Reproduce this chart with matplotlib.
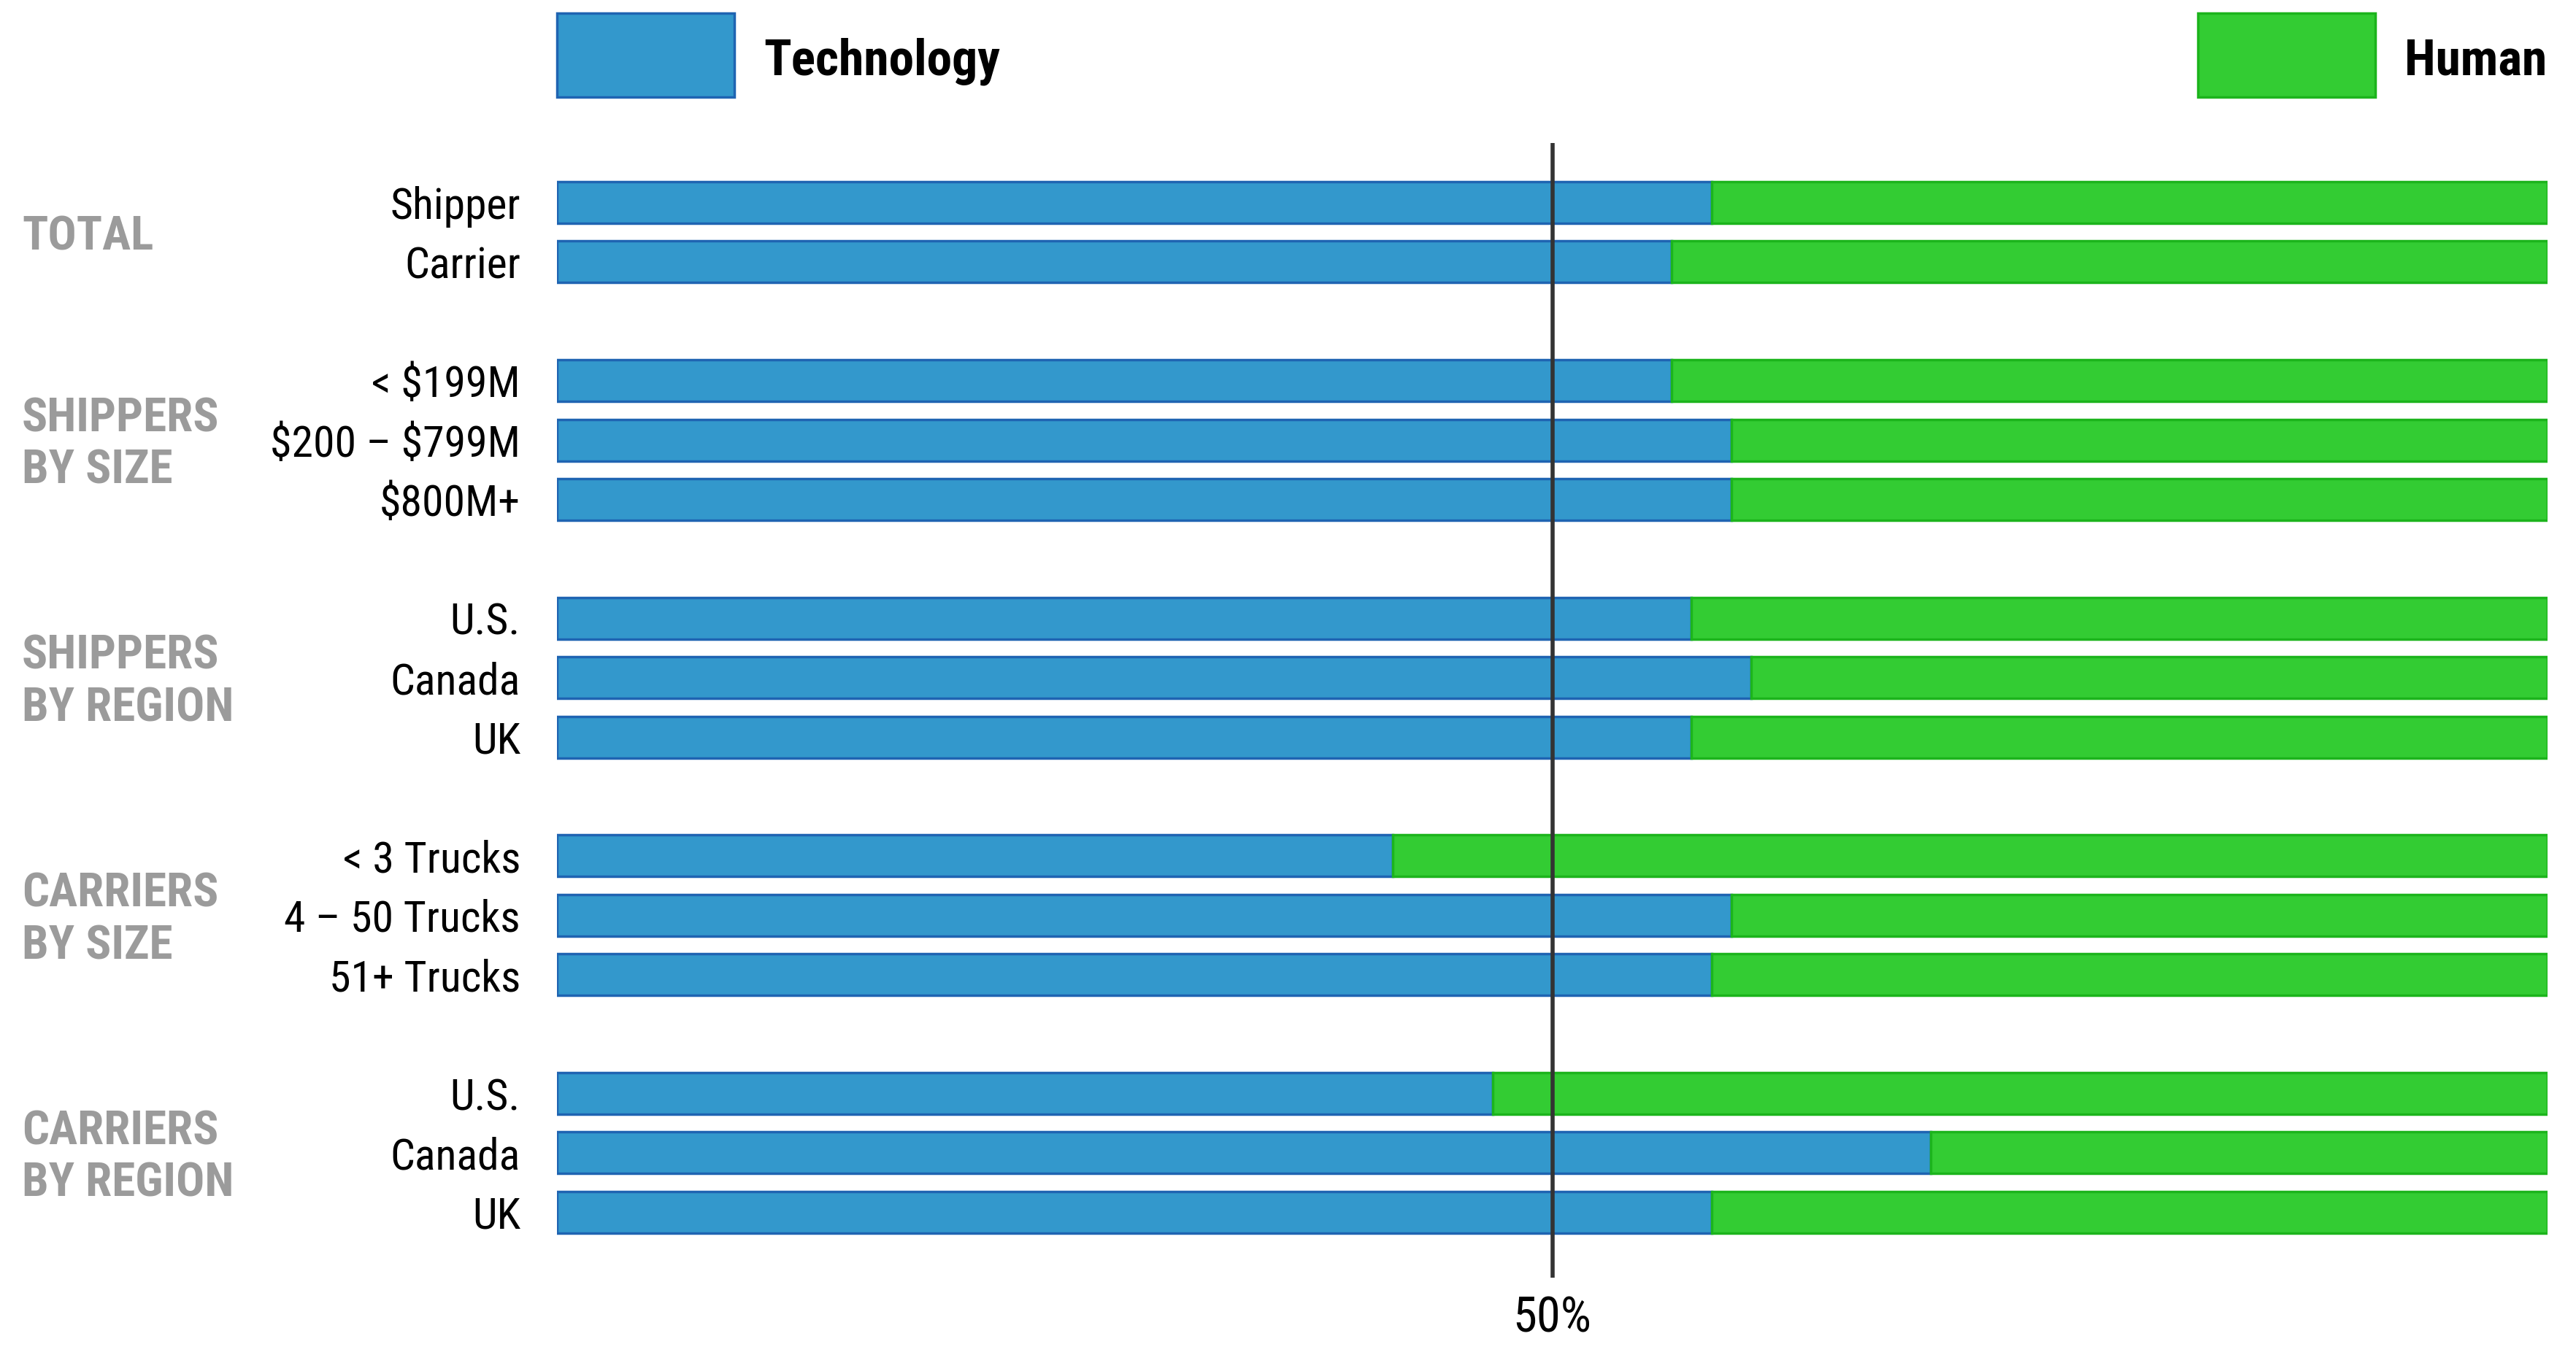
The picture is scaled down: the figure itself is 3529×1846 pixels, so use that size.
import matplotlib
matplotlib.use("Agg")
import matplotlib.pyplot as plt
from matplotlib.patches import Rectangle
from matplotlib.transforms import blended_transform_factory

# categories, top to bottom
labels = ['Shipper', 'Carrier',
          '< \\$199M', '\\$200 – \\$799M', '\\$800M+',
          'U.S.', 'Canada', 'UK',
          '< 3 Trucks', '4 – 50 Trucks', '51+ Trucks',
          'U.S.', 'Canada', 'UK']
# row slots (an empty slot between groups)
slots = [0, 1, 3, 4, 5, 7, 8, 9, 11, 12, 13, 15, 16, 17]

groups = ['TOTAL', 'SHIPPERS\nBY SIZE', 'SHIPPERS\nBY REGION', 'CARRIERS\nBY SIZE', 'CARRIERS\nBY REGION']
group_slots = [0.5, 4, 8, 12, 16]

# share (%) preferring technology vs human
technology = [58, 56, 56, 59, 59, 57, 60, 57, 42, 59, 58, 47, 69, 58]
human = [100 - t for t in technology]

blue, blue_edge = '#3398cc', '#1f64b2'
green, green_edge = '#33cc33', '#1cb41c'
grey = '#9b9b9b'

fam = ['Roboto Condensed', 'Barlow Condensed', 'Archivo Narrow', 'DejaVu Sans']
plt.rcParams['font.family'] = fam

fig = plt.figure(figsize=(35.29, 18.46), dpi=100)
ax = fig.add_axes([0.2162, 0.0515, 0.7728, 0.8423])

ax.barh(slots, technology, height=0.7, color=blue, edgecolor=blue_edge, linewidth=2.5)
ax.barh(slots, human, left=technology, height=0.7, color=green, edgecolor=green_edge, linewidth=2.5)

ax.axvline(50, color='#333333', linewidth=4, solid_capstyle='round', zorder=5)

ax.set_xlim(0, 100)
ax.set_ylim(18.1, -1.0)
ax.set_yticks(slots)
ax.set_yticklabels(labels, fontsize=43)
ax.tick_params(axis='y', length=0, pad=36)
ax.set_xticks([])
for s in ax.spines.values():
    s.set_visible(False)

# 50% label under the line
ax.text(50, 18.8, '50%', fontsize=48, ha='center', va='center')

# group labels
tr = blended_transform_factory(fig.transFigure, ax.transData)
for g, y in zip(groups, group_slots):
    ax.text(0.0085, y + 0.08, g, transform=tr, fontsize=47, fontweight='bold', color=grey,
            ha='left', va='center', linespacing=1.22)

# legend
fig.patches.append(Rectangle((0.2162, 0.928), 0.0689, 0.0623, transform=fig.transFigure,
                             facecolor=blue, edgecolor=blue_edge, linewidth=2.5))
fig.patches.append(Rectangle((0.8532, 0.928), 0.0689, 0.0623, transform=fig.transFigure,
                             facecolor=green, edgecolor=green_edge, linewidth=2.5))
fig.text(0.2965, 0.9545, 'Technology', fontsize=50, fontweight='bold', ha='left', va='center')
fig.text(0.9887, 0.9545, 'Human', fontsize=50, fontweight='bold', ha='right', va='center')

fig.savefig('out.png', dpi=100)
